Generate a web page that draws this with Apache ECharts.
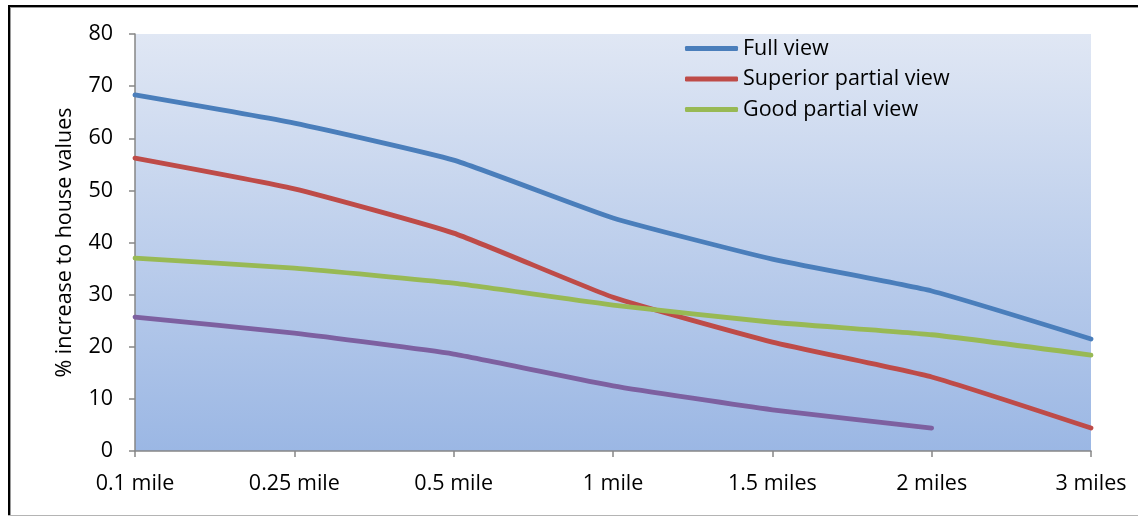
<!DOCTYPE html>
<html>
<head>
<meta charset="utf-8">
<script src="https://cdn.jsdelivr.net/npm/echarts@6/dist/echarts.min.js"></script>
<style>
  html, body { margin: 0; padding: 0; background: #ffffff; }
  #chart { width: 1138px; height: 517px; }
</style>
</head>
<body>
<div id="chart"></div>
<script>
// Distance bands from the feature
const categories = ['0.1 mile', '0.25 mile', '0.5 mile', '1 mile', '1.5 miles', '2 miles', '3 miles'];

// % increase to house values per view type
const fullView = [68.3, 62.9, 55.8, 44.7, 36.8, 30.7, 21.5];
const superiorPartialView = [56.2, 50.3, 41.8, 29.5, 20.9, 14.2, 4.4];
const goodPartialView = [37.0, 35.1, 32.2, 28.0, 24.7, 22.3, 18.4];
const partialView = [25.7, 22.6, 18.6, 12.5, 7.9, 4.4, null];

const yTicks = { min: 0, max: 80, interval: 10 };

const font = '"Open Sans", "Liberation Sans", sans-serif';
const fontSize = 21.5;
const axisGrey = '#868686';

const chart = echarts.init(document.getElementById('chart'));

function lineSeries(name, data, color) {
  return {
    name: name,
    type: 'line',
    data: data,
    smooth: 0.15,
    showSymbol: false,
    symbol: 'none',
    lineStyle: { color: color, width: 4.8, cap: 'round', join: 'round' },
    itemStyle: { color: color },
    emphasis: { disabled: true }
  };
}

chart.setOption({
  animation: false,
  backgroundColor: '#ffffff',
  textStyle: { fontFamily: font },
  grid: {
    left: 135, right: 47, top: 34, bottom: 66,
    show: true,
    borderWidth: 0,
    backgroundColor: new echarts.graphic.LinearGradient(0, 0, 0, 1, [
      { offset: 0, color: '#e0e7f4' },
      { offset: 1, color: '#9bb7e4' }
    ])
  },
  legend: {
    data: ['Full view', 'Superior partial view', 'Good partial view'],
    orient: 'vertical',
    left: 680,
    top: 32,
    itemWidth: 53,
    itemHeight: 5,
    itemGap: 7.5,
    itemTextGap: 3,
    icon: 'roundRect',
    textStyle: { fontFamily: font, fontSize: fontSize, color: '#000000', lineHeight: 23 }
  },
  xAxis: {
    type: 'category',
    data: categories,
    boundaryGap: false,
    axisLine: { lineStyle: { color: axisGrey, width: 1.5 } },
    axisTick: { show: true, length: 6, alignWithLabel: true, lineStyle: { color: axisGrey, width: 1.5 } },
    axisLabel: { color: '#000000', fontSize: fontSize, fontFamily: font, margin: 22 },
    splitLine: { show: false }
  },
  yAxis: {
    type: 'value',
    min: yTicks.min,
    max: yTicks.max,
    interval: yTicks.interval,
    name: '% increase to house values',
    nameLocation: 'middle',
    nameGap: 59,
    nameRotate: 90,
    nameTextStyle: { color: '#000000', fontSize: fontSize, fontFamily: font },
    axisLine: { show: true, lineStyle: { color: axisGrey, width: 1.5 } },
    axisTick: { show: true, length: 6, lineStyle: { color: axisGrey, width: 1.5 } },
    axisLabel: { color: '#000000', fontSize: fontSize, fontFamily: font, margin: 22 },
    splitLine: { show: false }
  },
  series: [
    lineSeries('Full view', fullView, '#4a7ebb'),
    lineSeries('Superior partial view', superiorPartialView, '#be4b48'),
    lineSeries('Good partial view', goodPartialView, '#98b954'),
    lineSeries('Partial view', partialView, '#7d60a0')
  ],
  graphic: [
    // outer frame: black edge on top and left, thin grey bottom
    { type: 'rect', silent: true, shape: { x: 8, y: 7, width: 1130, height: 1 }, style: { fill: '#9a9a9a' } },
    { type: 'rect', silent: true, shape: { x: 10, y: 5, width: 1, height: 511 }, style: { fill: '#9a9a9a' } },
    { type: 'rect', silent: true, shape: { x: 8, y: 5, width: 1130, height: 2 }, style: { fill: '#000000' } },
    { type: 'rect', silent: true, shape: { x: 8, y: 5, width: 2, height: 511 }, style: { fill: '#000000' } },
    { type: 'rect', silent: true, shape: { x: 8, y: 515, width: 1130, height: 1 }, style: { fill: '#b4b4b4' } }
  ]
});
</script>
</body>
</html>
